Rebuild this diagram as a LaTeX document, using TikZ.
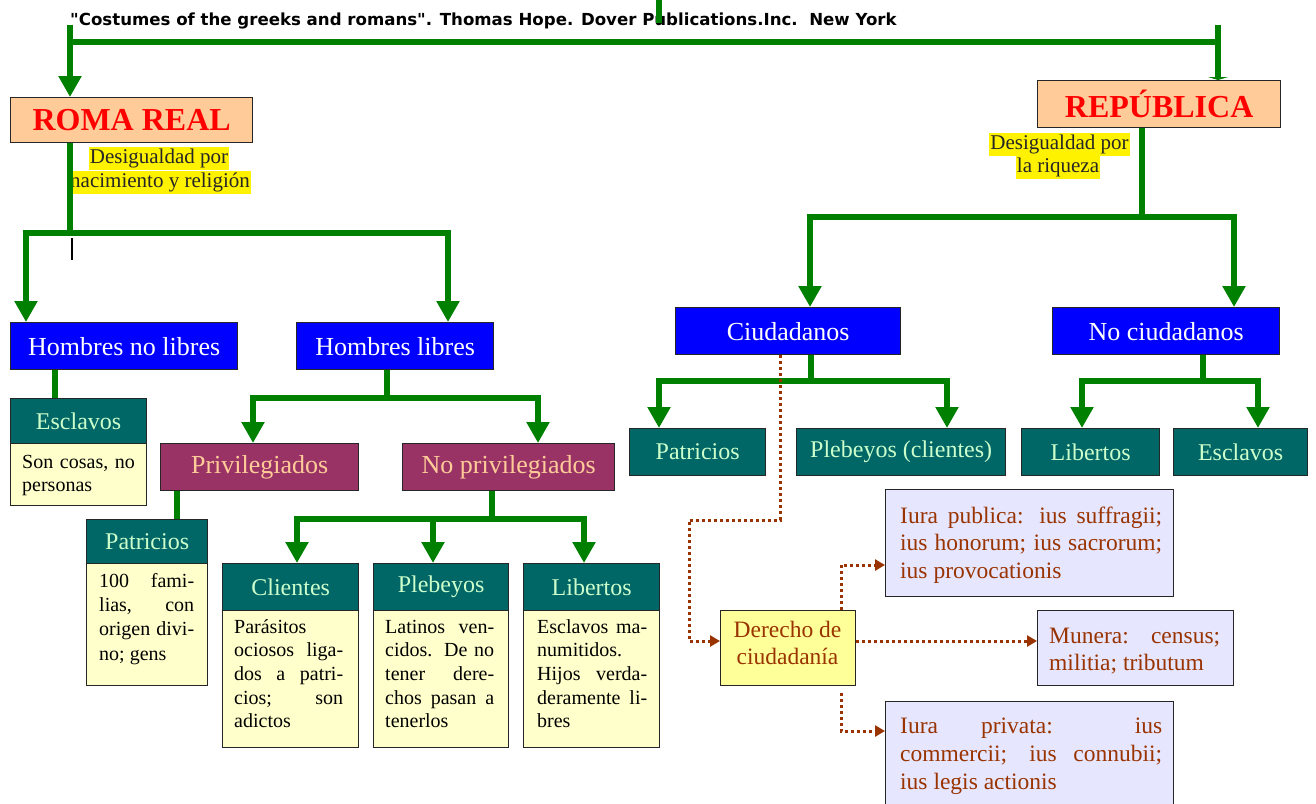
\documentclass[tikz,border=0pt]{standalone}
\usepackage{fontspec}
\setmainfont{Liberation Serif}
\newfontfamily\citefont{DejaVu Sans}
\usetikzlibrary{arrows.meta,calc}
\definecolor{peach}{HTML}{FFCC99}
\definecolor{plum}{HTML}{993366}
\definecolor{tealc}{HTML}{006666}
\definecolor{mint}{HTML}{CCFFCC}
\definecolor{cream}{HTML}{FFFFCC}
\definecolor{lemon}{HTML}{FFFF99}
\definecolor{lav}{HTML}{E6E6FF}
\definecolor{brick}{HTML}{993300}
\definecolor{gcol}{HTML}{008000}
\begin{document}
\begin{tikzpicture}[x=1pt,y=-1pt,
  box/.style={draw=black!85, line width=1.3pt, inner sep=0pt, anchor=north west, align=center},
  titlebox/.style={box, fill=peach, text=red, font=\fontsize{32}{36}\selectfont\bfseries},
  bluebox/.style={box, fill=blue, text=white, font=\fontsize{26}{30}\selectfont},
  plumbox/.style={box, fill=plum, text=peach, font=\fontsize{26}{30}\selectfont},
  tealbox/.style={box, fill=tealc, text=mint, font=\fontsize{24}{28}\selectfont},
  bodybox/.style={box, fill=cream},
  bodytext/.style={inner sep=0pt, anchor=north west, align=justify, text=black, font=\fontsize{20}{23.6}\selectfont},
  lavbox/.style={box, fill=lav},
  lavtext/.style={inner sep=0pt, anchor=north west, align=justify, text=brick, font=\fontsize{23.5}{27.5}\selectfont},
  hilite/.style={fill=yellow, inner xsep=1pt, inner ysep=0pt, text height=16.5pt, text depth=6pt, anchor=base, text=black!85, font=\fontsize{21}{24}\selectfont},
  gline/.style={draw=gcol, line width=6.5pt},
  garrow/.style={gline, -{Triangle[length=21pt,width=22pt]}},
  dline/.style={draw=brick, line width=3pt, dash pattern=on 3pt off 3pt},
  darrow/.style={dline, -{Triangle[length=10pt,width=11pt]}}
]
\useasboundingbox (0,0) rectangle (1316,803);
\clip (0,0) rectangle (1316,803);
\fill[white] (0,0) rectangle (1316,803);

% citation
\node[anchor=base west, inner sep=0pt, font=\citefont\bfseries\fontsize{16.6}{20}\selectfont] (cite) at (70,25)
  {"Costumes of the greeks and romans". Thomas Hope. Dover Publications.Inc.\ \ New York};

% titles
\node[titlebox, minimum width=242pt, minimum height=45pt] (roma) at (10,97) {ROMA REAL};
\node[titlebox, minimum width=243pt, minimum height=47pt] (rep) at (1037,80) {REPÚBLICA};

% labels
\node[hilite] (lab1a) at (159,163.5) {Desigualdad por};
\node[hilite] (lab1b) at (160,187.5) {nacimiento y religión};
\node[hilite] (lab2a) at (1059.5,149.5) {Desigualdad por};
\node[hilite] (lab2b) at (1058,172.5) {la riqueza};

% blue
\node[bluebox, minimum width=227pt, minimum height=47pt] (hnl) at (10,322) {Hombres no libres};
\node[bluebox, minimum width=197pt, minimum height=47pt] (hl) at (296,322) {Hombres libres};
\node[bluebox, minimum width=225pt, minimum height=47pt] (ciud) at (675,307) {Ciudadanos};
\node[bluebox, minimum width=227pt, minimum height=47pt] (nociud) at (1052,307) {No ciudadanos};

% plum
\node[plumbox, minimum width=198pt, minimum height=47pt] (priv) at (160,443) {Privilegiados};
\node[plumbox, minimum width=212pt, minimum height=47pt] (npriv) at (402,443) {No privilegiados};

% left teal + bodies
\node[bodybox, minimum width=136pt, minimum height=62pt] (escb) at (10,443) {};
\node[tealbox, minimum width=136pt, minimum height=45pt] (esc) at (10,398) {Esclavos};
\node[bodytext, text width=120pt, align=left] (esct) at (22,451.5) {\strut Son cosas, no\\personas};

\node[bodybox, minimum width=121pt, minimum height=122pt] (patb) at (86,563) {};
\node[tealbox, minimum width=121pt, minimum height=44pt] (pat) at (86,519) {Patricios};
\node[bodytext, text width=95pt, font=\fontsize{20}{24.3}\selectfont] (patt) at (99,570) {\strut 100 fami-\linebreak lias, con\linebreak origen divi-\linebreak no; gens};

\node[bodybox, minimum width=136pt, minimum height=137pt] (clb) at (222,610) {};
\node[tealbox, minimum width=136pt, minimum height=47pt] (cl) at (222,563) {Clientes};
\node[bodytext, text width=109pt] (clt) at (234,616.5) {\strut Parásitos\linebreak ociosos liga-\linebreak dos a patri-\linebreak cios; son\linebreak adictos};

\node[bodybox, minimum width=135pt, minimum height=137pt] (plb) at (373,610) {};
\node[tealbox, minimum width=135pt, minimum height=47pt] (pl) at (373,563) {Plebeyos};
\node[bodytext, text width=109pt] (plt) at (385,616.5) {\strut Latinos ven-\linebreak cidos. De no\linebreak tener dere-\linebreak chos pasan a\linebreak tenerlos};

\node[bodybox, minimum width=136pt, minimum height=137pt] (libb) at (523,610) {};
\node[tealbox, minimum width=136pt, minimum height=47pt] (lib) at (523,563) {Libertos};
\node[bodytext, text width=110pt] (libt) at (537,616.5) {\strut Esclavos ma-\linebreak numitidos.\linebreak Hijos verda-\linebreak deramente li-\linebreak bres};

% right teal
\node[tealbox, minimum width=136pt, minimum height=47pt] (patR) at (629,428) {Patricios};
\node[tealbox, minimum width=209pt, minimum height=47pt] (pleR) at (796,428) {Plebeyos (clientes)};
\node[tealbox, minimum width=138pt, minimum height=47pt] (libR) at (1021,428) {Libertos};
\node[tealbox, minimum width=134pt, minimum height=47pt] (escR) at (1173,428) {Esclavos};

% derecho
\node[box, fill=lemon, minimum width=135pt, minimum height=75pt] (der) at (720,610) {};
\node[inner sep=0pt, anchor=north, align=center, text=brick, font=\fontsize{23.5}{27.5}\selectfont] (dert) at (787.5,617.75) {\strut Derecho de\\ciudadanía};

\node[lavbox, minimum width=288pt, minimum height=107pt] (pub) at (885,489) {};
\node[lavtext, text width=262pt] (pubt) at (900,503.75) {\strut Iura publica: ius suffragii;\linebreak ius honorum; ius sacrorum;\linebreak ius provocationis};
\node[lavbox, minimum width=196pt, minimum height=75pt] (mun) at (1037,610) {};
\node[lavtext, text width=171pt] (munt) at (1049,623.75) {\strut Munera: census;\linebreak militia; tributum};
\node[lavbox, minimum width=288pt, minimum height=115pt] (prv) at (885,701) {};
\node[lavtext, text width=262pt, font=\fontsize{23.5}{28}\selectfont] (prvt) at (900,713.5) {\strut Iura privata: ius\linebreak commercii; ius connubii;\linebreak ius legis actionis};

% coordinates
\coordinate (tl) at (70,25);
\coordinate (tr) at (1218,25);
\coordinate (hl1) at (70,42);
\coordinate (hr1) at (1218,42);
\coordinate (stubA) at (659,0);
\coordinate (stubB) at (659,23);
\coordinate (rj) at (70,233);
\coordinate (x26) at (26,0);
\coordinate (x448) at (448,0);
\coordinate (x55) at (55,0);
\coordinate (hj) at (387,398);
\coordinate (x253) at (253,0);
\coordinate (x538) at (538,0);
\coordinate (x177) at (177,0);
\coordinate (nj) at (492,519);
\coordinate (x297) at (297,0);
\coordinate (x433) at (433,0);
\coordinate (x584) at (584,0);
\coordinate (pj) at (1142,217);
\coordinate (x810) at (810,0);
\coordinate (x1234) at (1234,0);
\coordinate (cj) at (811,381);
\coordinate (x659) at (659,0);
\coordinate (x947) at (947,0);
\coordinate (ncj) at (1203,381);
\coordinate (x1082) at (1082,0);
\coordinate (x1258) at (1258,0);
\coordinate (cur1) at (72,238);
\coordinate (cur2) at (72,260);

% green connectors
\draw[gline] (stubA) -- (stubB);
\draw[garrow] (tl) -- (tl |- roma.north);
\draw[gline] (hl1) -- (hr1);
\draw[gline, -{Triangle[length=3pt,width=20pt]}] (tr) -- (tr |- rep.north);

\draw[gline] (roma.south -| rj) -- (rj);
\draw[garrow] (rj) -| (x26 |- hnl.north);
\draw[garrow] (rj) -| (x448 |- hl.north);
\draw[black, line width=2.5pt] (cur1) -- (cur2);

\draw[gline] (hnl.south -| x55) -- (x55 |- esc.north);

\draw[gline] (hl.south -| hj) -- (hj);
\draw[garrow] (hj) -| (x253 |- priv.north);
\draw[garrow] (hj) -| (x538 |- npriv.north);

\draw[gline] (priv.south -| x177) -- (x177 |- pat.north);

\draw[gline] (npriv.south -| nj) -- (nj);
\draw[garrow] (nj) -| (x297 |- cl.north);
\draw[garrow] (nj) -| (x433 |- pl.north);
\draw[garrow] (nj) -| (x584 |- lib.north);

\draw[gline] (rep.south -| pj) -- (pj);
\draw[garrow] (pj) -| (x810 |- ciud.north);
\draw[garrow] (pj) -| (x1234 |- nociud.north);

\draw[gline] (ciud.south -| cj) -- (cj);
\draw[garrow] (cj) -| (x659 |- patR.north);
\draw[garrow] (cj) -| (x947 |- pleR.north);

\draw[gline] (nociud.south -| ncj) -- (ncj);
\draw[garrow] (ncj) -| (x1082 |- libR.north);
\draw[garrow] (ncj) -| (x1258 |- escR.north);

% dotted connectors
\coordinate (d780) at (780,0);
\coordinate (dA) at (780,520);
\coordinate (dB) at (689,641);
\coordinate (dU) at (841,565);
\coordinate (dM) at (0,641);
\coordinate (dD) at (841,731);
\draw[darrow] (ciud.south -| d780) -- (dA) -| (dB) -- (dB -| der.west);
\draw[darrow] (der.north -| dU) |- (pub.west |- dU);
\draw[darrow] (der.east |- dM) -- (mun.west |- dM);
\draw[darrow] ($(der.south -| dD)+(0,7)$) |- (prv.west |- dD);
\end{tikzpicture}
\end{document}
